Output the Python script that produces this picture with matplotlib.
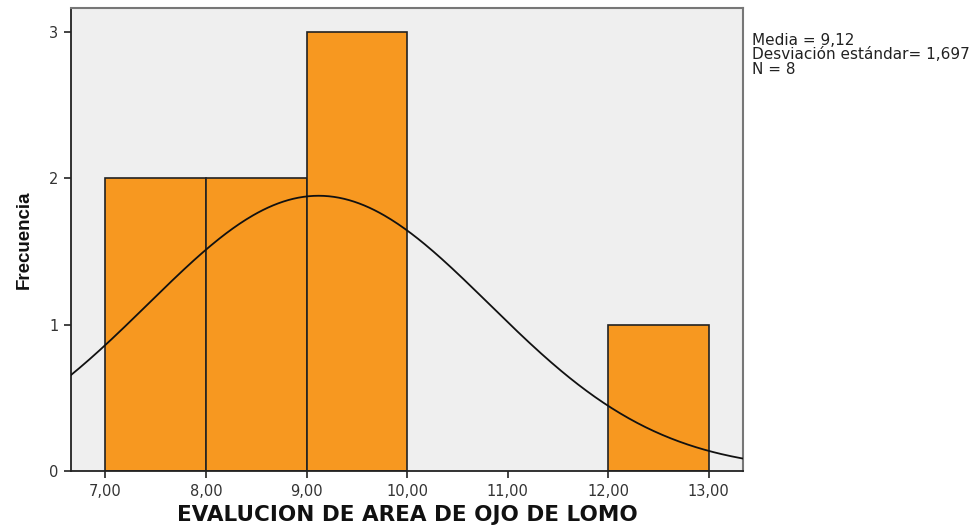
import numpy as np
import matplotlib
matplotlib.use("Agg")
import matplotlib.pyplot as plt

plt.rcParams['font.family'] = ['DejaVu Sans']

# Histogram bins (left edges, width 1) and frequencies
bin_left = [7.0, 8.0, 9.0, 12.0]
bin_width = 1.0
frequencies = [2, 2, 3, 1]

# Summary statistics
media = 9.12
desviacion = 1.697
n = 8

x_ticks = [7, 8, 9, 10, 11, 12, 13]
x_tick_labels = ["7,00", "8,00", "9,00", "10,00", "11,00", "12,00", "13,00"]
y_ticks = [0, 1, 2, 3]

fig = plt.figure(figsize=(9.78, 5.29), dpi=100)
fig.patch.set_facecolor("white")
ax = fig.add_axes([0.0726, 0.1096, 0.6874, 0.8754])
ax.set_facecolor("#EFEFEF")

ax.bar(bin_left, frequencies, width=bin_width, align="edge",
       color="#F79820", edgecolor="#222222", linewidth=1.2, zorder=2)

# Normal curve scaled to counts
xs = np.linspace(6.657, 13.345, 400)
ys = n * bin_width / (desviacion * np.sqrt(2 * np.pi)) * np.exp(-0.5 * ((xs - media) / desviacion) ** 2)
ax.plot(xs, ys, color="#111111", linewidth=1.3, zorder=3)

ax.set_xlim(6.657, 13.345)
ax.set_ylim(0, 3.164)
ax.set_xticks(x_ticks)
ax.set_xticklabels(x_tick_labels)
ax.set_yticks(y_ticks)

ax.tick_params(axis="both", direction="out", length=5, width=1.2,
               colors="#222222", labelsize=10.5, labelcolor="#333333", pad=4)

for side in ["left", "bottom"]:
    ax.spines[side].set_color("#222222")
    ax.spines[side].set_linewidth(1.3)
for side in ["top", "right"]:
    ax.spines[side].set_color("#777777")
    ax.spines[side].set_linewidth(1.5)

ax.set_xlabel("EVALUCION DE AREA DE OJO DE LOMO", fontsize=15.5, fontweight="bold",
              color="#111111", labelpad=5)
ax.set_ylabel("Frecuencia", fontsize=13.5, fontweight="bold", color="#111111",
              labelpad=12, family=["Liberation Sans", "DejaVu Sans"])

fig.text(0.769, 0.937,
         "Media = 9,12\nDesviación estándar= 1,697\nN = 8",
         fontsize=11, color="#222222", va="top", ha="left", linespacing=0.93)

fig.savefig("out.png", dpi=100)
